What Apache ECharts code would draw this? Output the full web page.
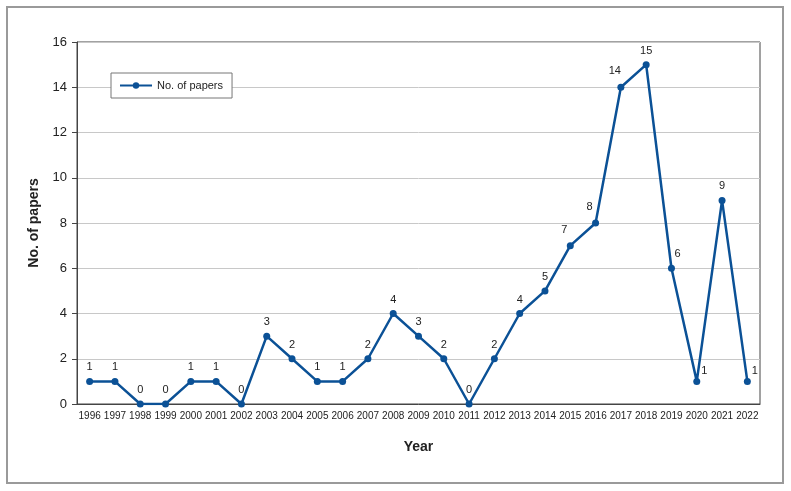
<!DOCTYPE html>
<html>
<head>
<meta charset="utf-8">
<script src="https://cdn.jsdelivr.net/npm/echarts@6/dist/echarts.min.js"></script>
<style>html,body{margin:0;padding:0;background:#fff;}#c{width:791px;height:491px;}</style>
</head>
<body>
<div id="c"></div>
<script>
const years = ['1996','1997','1998','1999','2000','2001','2002','2003','2004','2005','2006','2007','2008','2009','2010','2011','2012','2013','2014','2015','2016','2017','2018','2019','2020','2021','2022'];
const papers = [1,1,0,0,1,1,0,3,2,1,1,2,4,3,2,0,2,4,5,7,8,14,15,6,1,9,1];
const seriesName = 'No. of papers';
const yAxisName = 'No. of papers';
const xAxisName = 'Year';

const lineColor = '#0b5196';
const chart = echarts.init(document.getElementById('c'), null, {renderer: 'canvas'});

// label placement tweaks (styling only)
function labelFor(i) {
  const y = years[i];
  if (y === '2020' || y === '2022') return {position: 'right', offset: [-4, -10]};
  if (y === '2019') return {position: 'top', offset: [6, 0]};
  if (y === '2015' || y === '2016' || y === '2017') return {position: 'top', offset: [-6, -2]};
  return {position: 'top'};
}
const seriesData = papers.map((v, i) => ({value: v, label: labelFor(i)}));

chart.setOption({
  animation: false,
  textStyle: {fontFamily: 'Liberation Sans, Arial, sans-serif'},
  graphic: [{
    type: 'rect', shape: {x: 7, y: 7, width: 776, height: 476},
    style: {fill: 'none', stroke: '#9a9a9a', lineWidth: 2}, z: -10
  }],
  grid: {left: 77, right: 31, top: 42, bottom: 87, show: true, borderColor: '#444', borderWidth: 1, containLabel: false},
  legend: {
    left: 111, top: 73, orient: 'horizontal',
    backgroundColor: '#fff', borderColor: '#777', borderWidth: 1,
    padding: [7, 9, 7, 8],
    itemWidth: 32, itemHeight: 8, itemGap: 5,
    textStyle: {fontSize: 11, color: '#222'},
    data: [seriesName]
  },
  xAxis: {
    type: 'category', data: years, boundaryGap: true,
    name: xAxisName, nameLocation: 'middle', nameGap: 36,
    nameTextStyle: {fontSize: 14, fontWeight: 'bold', color: '#222'},
    axisLine: {lineStyle: {color: '#444', width: 1}},
    axisTick: {alignWithLabel: true, length: 4, lineStyle: {color: '#444'}},
    axisLabel: {fontSize: 10, color: '#222', margin: 7, interval: 0}
  },
  yAxis: {
    type: 'value', min: 0, max: 16, interval: 2,
    name: yAxisName, nameLocation: 'middle', nameGap: 27,
    nameTextStyle: {fontSize: 14, fontWeight: 'bold', color: '#222'},
    axisLine: {show: true, lineStyle: {color: '#444', width: 1}},
    axisTick: {show: true, length: 5, lineStyle: {color: '#444'}},
    axisLabel: {fontSize: 13, color: '#222', margin: 10},
    splitLine: {lineStyle: {color: '#c8c8c8', width: 1}}
  },
  series: [{
    name: seriesName, type: 'line', data: seriesData,
    symbol: 'circle', symbolSize: 7,
    lineStyle: {color: lineColor, width: 2.5},
    itemStyle: {color: lineColor},
    label: {show: true, fontSize: 11, color: '#222', distance: 5},
    z: 5
  }]
});
</script>
</body>
</html>
